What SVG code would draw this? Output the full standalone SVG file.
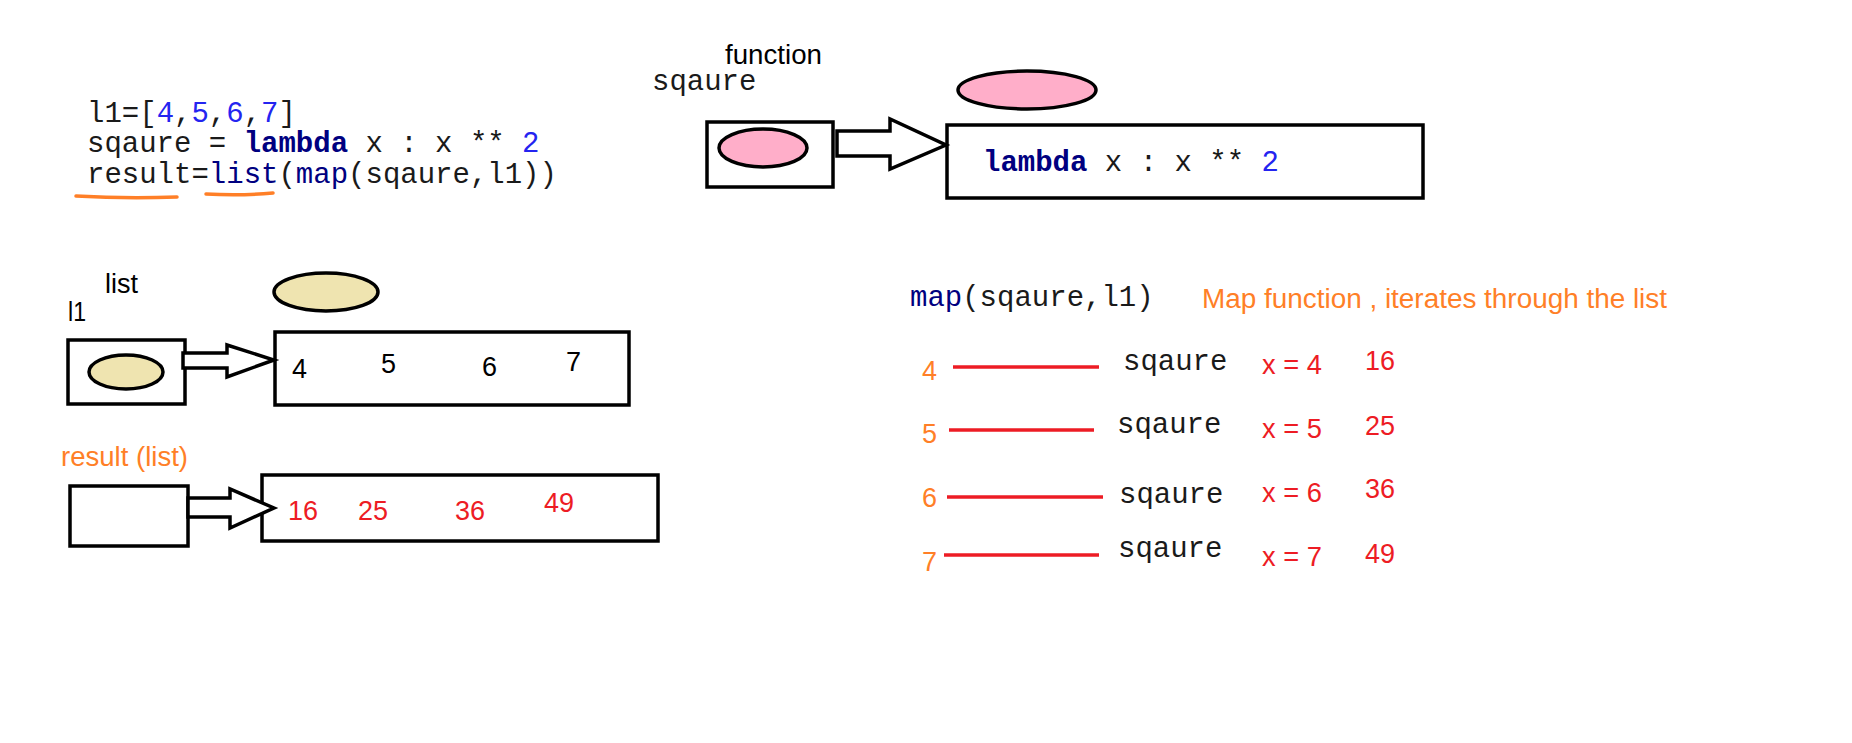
<svg xmlns="http://www.w3.org/2000/svg" width="1852" height="743" viewBox="0 0 1852 743">
<style>
.code{font-family:"Liberation Mono","Courier New",monospace;font-size:29px;fill:#1a1a1a}
.kw{fill:#000080;font-weight:bold}
.fn{fill:#000080}
.num{fill:#2424f0}
.lbl{font-family:"Liberation Sans",Arial,sans-serif;font-size:27px;fill:#000}
.org{fill:#ff7f27}
.red{fill:#ed1c24}
.box{fill:#fff;stroke:#000;stroke-width:3.5}
.pink{fill:#ffaec9;stroke:#000;stroke-width:3.5}
.tan{fill:#efe4b0;stroke:#000;stroke-width:3.5}
.arrow{fill:#fff;stroke:#000;stroke-width:3.5;stroke-linejoin:miter}
.rline{stroke:#ed1c24;stroke-width:3.5;fill:none}
.uline{stroke:#ff7f27;stroke-width:3.5;fill:none;stroke-linecap:round}
</style>
<rect width="1852" height="743" fill="#fff"/>

<g id="code">
<text class="code" x="87" y="122">l1=[<tspan class="num">4</tspan>,<tspan class="num">5</tspan>,<tspan class="num">6</tspan>,<tspan class="num">7</tspan>]</text>
<text class="code" x="87" y="152">sqaure = <tspan class="kw">lambda</tspan> x : x ** <tspan class="num">2</tspan></text>
<text class="code" x="87" y="183">result=<tspan class="fn">list</tspan>(<tspan class="fn">map</tspan>(sqaure,l1))</text>
<path class="uline" d="M76 196 Q126 199 177 197"/>
<path class="uline" d="M206 194 Q240 196 273 193"/>
</g>

<g id="function-label">
<text class="lbl" x="725" y="64" textLength="97" lengthAdjust="spacingAndGlyphs">function</text>
<text class="code" x="652" y="90">sqaure</text>
</g>

<g id="sqaure-var">
<rect class="box" x="707" y="122" width="126" height="65"/>
<ellipse class="pink" cx="763" cy="148" rx="44" ry="19"/>
</g>

<g id="function-object">
<ellipse class="pink" cx="1027" cy="90" rx="69" ry="19"/>
<rect class="box" x="947" y="125" width="476" height="73"/>
<text class="code" x="983" y="171"><tspan class="kw">lambda</tspan> x : x ** <tspan class="num">2</tspan></text>
</g>

<g id="l1-label">
<text class="lbl" x="105" y="293" textLength="33" lengthAdjust="spacingAndGlyphs">list</text>
<text class="lbl" x="68" y="321" textLength="18" lengthAdjust="spacingAndGlyphs">l1</text>
</g>

<g id="l1-var">
<rect class="box" x="68" y="340" width="117" height="64"/>
<ellipse class="tan" cx="126" cy="372" rx="37" ry="17"/>
</g>

<g id="l1-list">
<ellipse class="tan" cx="326" cy="292" rx="52" ry="19"/>
<rect class="box" x="275" y="332" width="354" height="73"/>
<text class="lbl" x="292" y="378">4</text>
<text class="lbl" x="381" y="373">5</text>
<text class="lbl" x="482" y="376">6</text>
<text class="lbl" x="566" y="371">7</text>
</g>

<g id="result-label">
<text class="lbl org" x="61" y="466" textLength="127" lengthAdjust="spacingAndGlyphs">result (list)</text>
</g>

<g id="result-var">
<rect class="box" x="70" y="486" width="118" height="60"/>
</g>

<g id="result-list">
<rect class="box" x="262" y="475" width="396" height="66"/>
<text class="lbl red" x="288" y="520">16</text>
<text class="lbl red" x="358" y="520">25</text>
<text class="lbl red" x="455" y="520">36</text>
<text class="lbl red" x="544" y="512">49</text>
</g>

<g id="map-explanation">
<text class="code" x="910" y="306"><tspan class="fn">map</tspan>(sqaure,l1)</text>
<text class="lbl org" x="1202" y="308" textLength="465" lengthAdjust="spacingAndGlyphs">Map function , iterates through the list</text>
</g>

<g id="map-rows">
<text class="lbl org" x="922" y="380">4</text>
<text class="code" x="1123" y="370">sqaure</text>
<text class="lbl red" x="1262" y="374" textLength="60" lengthAdjust="spacingAndGlyphs">x = 4</text>
<text class="lbl red" x="1365" y="370">16</text>

<text class="lbl org" x="922" y="443">5</text>
<text class="code" x="1117" y="433">sqaure</text>
<text class="lbl red" x="1262" y="438" textLength="60" lengthAdjust="spacingAndGlyphs">x = 5</text>
<text class="lbl red" x="1365" y="435">25</text>

<text class="lbl org" x="922" y="507">6</text>
<text class="code" x="1119" y="503">sqaure</text>
<text class="lbl red" x="1262" y="502" textLength="60" lengthAdjust="spacingAndGlyphs">x = 6</text>
<text class="lbl red" x="1365" y="498">36</text>

<text class="lbl org" x="922" y="571">7</text>
<text class="code" x="1118" y="557">sqaure</text>
<text class="lbl red" x="1262" y="566" textLength="60" lengthAdjust="spacingAndGlyphs">x = 7</text>
<text class="lbl red" x="1365" y="563">49</text>
</g>

<g id="connectors">
<polygon class="arrow" points="837,131 890,131 890,119 946,145 890,169 890,156 837,156"/>
<polygon class="arrow" points="183,353 227,353 227,345 274,360 227,377 227,368 183,368"/>
<polygon class="arrow" points="188,498 230,498 230,489 274,508 230,528 230,517 188,517"/>
<line class="rline" x1="953" y1="367" x2="1099" y2="367"/>
<line class="rline" x1="949" y1="430" x2="1094" y2="430"/>
<line class="rline" x1="947" y1="497" x2="1103" y2="497"/>
<line class="rline" x1="944" y1="555" x2="1099" y2="555"/>
</g>
</svg>
